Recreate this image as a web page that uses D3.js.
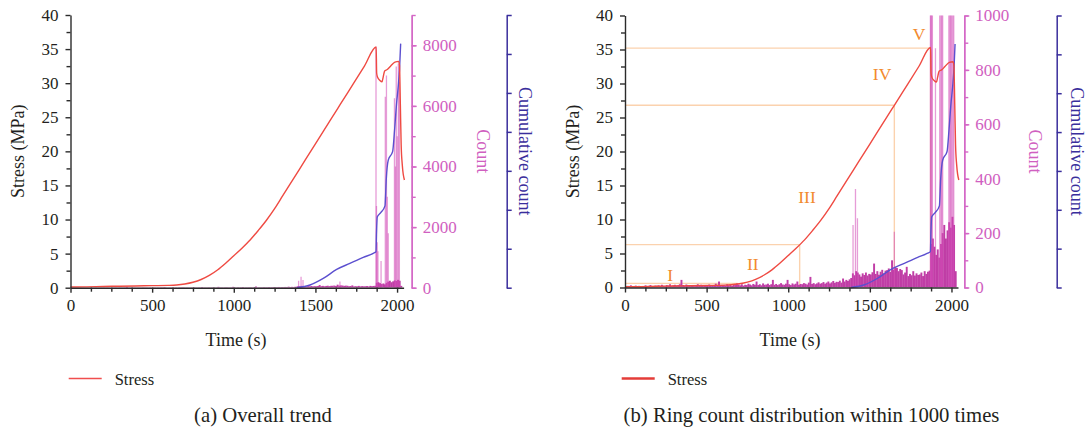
<!DOCTYPE html>
<html>
<head>
<meta charset="utf-8">
<script src="https://cdn.jsdelivr.net/npm/d3@7/dist/d3.min.js"></script>
<style>
  html, body { margin: 0; padding: 0; background: #ffffff; }
  svg { display: block; }
  svg text { font-family: "Liberation Serif", "DejaVu Serif", serif !important; }
</style>
</head>
<body>
<svg id="chart" width="1086" height="429"></svg>
<script>
// ---------------- DATA ----------------
const stressTime  = [0, 100, 200, 300, 400, 500, 600, 650, 700, 750, 800, 850, 900, 950, 1000, 1050, 1100, 1150, 1200, 1250, 1300, 1400, 1500, 1600, 1650, 1700, 1800, 1872, 1875, 1880, 1895, 1908, 1915, 1924, 1940, 1960, 1987, 2010, 2015, 2020, 2025, 2032, 2045];
const stressValue = [0.1, 0.12, 0.18, 0.22, 0.26, 0.3, 0.34, 0.4, 0.55, 0.8, 1.2, 1.8, 2.6, 3.6, 4.7, 5.8, 7.0, 8.4, 9.9, 11.6, 13.5, 17.3, 21.1, 24.9, 26.8, 28.7, 32.5, 35.3, 31.5, 30.9, 30.4, 30.2, 30.9, 31.8, 32.0, 32.5, 33.1, 33.2, 32.6, 27.0, 21.0, 18.0, 15.8];

const cumTime  = [1385, 1467, 1548, 1630, 1711, 1793, 1854, 1871, 1874, 1879, 1900, 1926, 1934, 1946, 1973, 1985, 1997, 2007, 2015, 2022];
const cumValue = [0, 700, 2380, 4690, 6230, 7770, 8820, 9240, 14000, 18200, 19250, 21000, 28000, 32760, 35000, 40600, 47320, 51590, 56000, 62650];

// ring counts per 10 s bin, starting at t = 0
const countBinSeconds = 10;
const counts = [
  4, 6, 3, 8, 5, 3, 7, 4, 6, 5,
  5, 3, 8, 4, 6, 9, 5, 4, 7, 6,
  8, 5, 10, 6, 4, 9, 7, 12, 6, 8,
  10, 7, 9, 12, 28, 9, 6, 11, 8, 7,
  6, 9, 5, 8, 12, 7, 10, 6, 9, 8,
  7, 11, 6, 9, 8, 14, 10, 22, 8, 6,
  9, 7, 12, 8, 10, 6, 13, 9, 15, 11,
  8, 12, 7, 10, 9, 14, 11, 8, 13, 10,
  22, 9, 12, 8, 15, 10, 11, 14, 9, 12,
  28, 10, 13, 9, 12, 16, 11, 10, 14, 28,
  12, 9, 15, 11, 14, 22, 10, 13, 12, 16,
  14, 11, 18, 39, 13, 16, 12, 15, 19, 14,
  16, 20, 14, 18, 22, 15, 19, 24, 17, 21,
  20, 25, 18, 33, 22, 28, 24, 30, 35, 52,
  45, 60, 55, 48, 40, 52, 46, 55, 44, 50,
  48, 56, 88, 50, 60, 47, 58, 65, 52, 62,
  64, 70, 58, 100, 66, 75, 72, 60, 68, 64,
  48, 55, 76, 42, 50, 45, 60, 44, 52, 46,
  48, 55, 42, 60, 50, 58, 62, 160, 180, 150,
  120, 140, 110, 160, 200, 230, 180, 210, 240, 220,
  260, 230, 60, 0
];

// individual large ring-count events
const spikeTime  = [1397, 1412, 1424, 1650, 1871, 1874, 1878, 1883, 1902, 1928, 1935, 1940, 1946, 1984, 1990, 1995, 2001, 2008, 2014];
const spikeCount = [230, 362, 255, 205, 7950, 2700, 1500, 1200, 880, 6300, 7000, 3000, 1800, 6250, 4000, 7300, 5000, 7400, 6800];

// stage boundaries (panel b)
const stageBoundaryTime   = [690, 1070, 1650, 1872];
const stageBoundaryStress = [0.6, 6.3, 26.8, 35.2];
const stageLabels      = ["I", "II", "III", "IV", "V"];
const stageLabelTime   = [276, 783, 1115, 1575, 1802];
const stageLabelStress = [1.8, 3.5, 13.3, 31.4, 37.3];

const timeTicks   = [0, 500, 1000, 1500, 2000];
const stressTicks = [0, 5, 10, 15, 20, 25, 30, 35, 40];
const countTicksA = [0, 2000, 4000, 6000, 8000];
const countTicksB = [0, 200, 400, 600, 800, 1000];

// ---------------- DRAW ----------------
const FONT = '"Liberation Serif", "DejaVu Serif", serif';
const svg = d3.select("#chart");
const C = {
  axis: "#2b2b2b", text: "#231f20", stress: "#ef4a42", cum: "#5b4fcf",
  cumAxis: "#3a2e9c", count: "#c03ea6", countAxis: "#d468c6", countText: "#d060c0",
  guide: "#fbd2ae", stage: "#f28a2e"
};
const TICK_FS = 17, TITLE_FS = 18, CAPTION_FS = 20.7, LEGEND_FS = 16.5;

function panel(P) {
  const g = svg.append("g");
  const x = d3.scaleLinear().domain([0, 2040]).range([P.left, P.right]);
  const y = d3.scaleLinear().domain([0, 40]).range([P.bottom, P.top]);
  const yc = d3.scaleLinear().domain([0, P.countMax]).range([P.bottom, P.top]);
  const ycum = d3.scaleLinear().domain([0, 70000]).range([P.bottom, P.top]);

  const clipId = "clip" + P.id;
  g.append("clipPath").attr("id", clipId).append("rect")
    .attr("x", P.left).attr("y", P.top).attr("width", P.countX - P.left).attr("height", P.bottom - P.top);

  if (P.guides) {
    const gg = g.append("g").attr("stroke", C.guide).attr("stroke-width", 1.4).attr("fill", "none");
    stageBoundaryTime.forEach((t, i) => {
      gg.append("line").attr("x1", x(0)).attr("x2", x(t)).attr("y1", y(stageBoundaryStress[i])).attr("y2", y(stageBoundaryStress[i]));
      if (i > 0) gg.append("line").attr("x1", x(t)).attr("x2", x(t)).attr("y1", y(stageBoundaryStress[i])).attr("y2", y(0));
    });
  }

  const cg = g.append("g").attr("clip-path", `url(#${clipId})`);
  const bw = x(countBinSeconds) - x(0);
  cg.selectAll("rect.bar").data(counts).join("rect")
    .attr("x", (d, i) => x(i * countBinSeconds))
    .attr("width", bw + 0.3)
    .attr("y", d => yc(d))
    .attr("height", d => yc(0) - yc(d))
    .attr("fill", C.count);
  cg.selectAll("line.spike").data(spikeTime).join("line")
    .attr("x1", d => x(d)).attr("x2", d => x(d))
    .attr("y1", yc(0)).attr("y2", (d, i) => yc(spikeCount[i]))
    .attr("stroke", "#d24ab6").attr("stroke-opacity", 0.55).attr("stroke-width", 1.3);

  g.append("path").datum(cumTime)
    .attr("d", d3.line().curve(d3.curveMonotoneX).x(d => x(d)).y((d, i) => ycum(cumValue[i])))
    .attr("fill", "none").attr("stroke", C.cum).attr("stroke-width", 1.4);

  g.append("path").datum(stressTime)
    .attr("d", d3.line().curve(d3.curveMonotoneX).x(d => x(d)).y((d, i) => y(stressValue[i])))
    .attr("fill", "none").attr("stroke", C.stress).attr("stroke-width", 1.4);

  if (P.guides) {
    g.selectAll("text.stage").data(stageLabels).join("text")
      .attr("x", (d, i) => x(stageLabelTime[i])).attr("y", (d, i) => y(stageLabelStress[i]))
      .attr("text-anchor", "middle").attr("dominant-baseline", "central")
      .attr("fill", C.stage).attr("font-size", 17.5).text(d => d);
  }

  const xa = g.append("g").attr("transform", `translate(0,${P.bottom})`)
    .call(d3.axisBottom(x).tickValues(timeTicks).tickSize(5).tickSizeOuter(0).tickPadding(6).tickFormat(d3.format("d")));
  g.append("g").attr("transform", `translate(0,${P.bottom})`)
    .call(d3.axisBottom(x).tickValues(d3.range(125, 2040, 125).filter(v => v % 500)).tickSize(4).tickSizeOuter(0).tickFormat(""))
    .call(a => a.select(".domain").remove())
    .selectAll("line").attr("stroke", C.axis).attr("stroke-width", 1.4);
  const ya = g.append("g").attr("transform", `translate(${P.left},0)`)
    .call(d3.axisLeft(y).tickValues(stressTicks).tickSize(5).tickSizeOuter(0).tickPadding(7));
  g.append("g").attr("transform", `translate(${P.left},0)`)
    .call(d3.axisLeft(y).tickValues(d3.range(2.5, 40, 5)).tickSize(4).tickSizeOuter(0).tickFormat(""))
    .call(a => a.select(".domain").remove())
    .selectAll("line").attr("stroke", C.axis).attr("stroke-width", 1.4);
  [xa, ya].forEach(a => {
    a.selectAll("path,line").attr("stroke", C.axis).attr("stroke-width", 1.4);
    a.selectAll("text").attr("fill", C.text).attr("font-size", TICK_FS);
  });

  const ca = g.append("g").attr("transform", `translate(${P.countX},0)`)
    .call(d3.axisRight(yc).tickValues(P.countTicks).tickSize(5).tickSizeOuter(0).tickPadding(6).tickFormat(d3.format("d")));
  const caMinor = g.append("g").attr("transform", `translate(${P.countX},0)`)
    .call(d3.axisRight(yc).tickValues(d3.range(0, P.countMax + 1, P.countMinor)).tickSize(4).tickSizeOuter(0).tickFormat(""));
  [ca, caMinor].forEach(a => {
    a.selectAll("path,line").attr("stroke", C.countAxis).attr("stroke-width", 1.4);
    a.selectAll("text").attr("fill", C.countText).attr("font-size", TICK_FS);
  });

  const cua = g.append("g").attr("transform", `translate(${P.cumX},0)`)
    .call(d3.axisRight(ycum).tickValues(d3.range(0, 70001, 10000)).tickSize(5).tickSizeOuter(0).tickFormat(""));
  cua.selectAll("path,line").attr("stroke", C.cumAxis).attr("stroke-width", 1.5);

  const midY = (P.top + P.bottom) / 2;
  g.append("text").attr("transform", `translate(${P.stressTitleX},${midY}) rotate(-90)`)
    .attr("text-anchor", "middle").attr("dominant-baseline", "central")
    .attr("fill", C.text).attr("font-size", TITLE_FS).text("Stress (MPa)");
  g.append("text").attr("transform", `translate(${P.countTitleX},${midY}) rotate(90)`)
    .attr("text-anchor", "middle").attr("dominant-baseline", "central")
    .attr("fill", C.countText).attr("font-size", TITLE_FS).text("Count");
  g.append("text").attr("transform", `translate(${P.cumTitleX},${midY}) rotate(90)`)
    .attr("text-anchor", "middle").attr("dominant-baseline", "central")
    .attr("fill", C.cumAxis).attr("font-size", TITLE_FS).text("Cumulative count");
  g.append("text").attr("x", P.timeTitleX).attr("y", 346)
    .attr("text-anchor", "middle").attr("fill", C.text).attr("font-size", TITLE_FS).text("Time (s)");

  g.append("line").attr("x1", P.legendX).attr("x2", P.legendX + 33).attr("y1", 378.5).attr("y2", 378.5)
    .attr("stroke", P.legendColor).attr("stroke-width", P.legendWidth);
  g.append("text").attr("x", P.legendX + 46).attr("y", 384.5)
    .attr("fill", C.text).attr("font-size", LEGEND_FS).text("Stress");

  g.append("text").attr("x", P.captionX).attr("y", 421.5)
    .attr("text-anchor", "middle").attr("fill", C.text).attr("font-size", CAPTION_FS).text(P.caption);

  g.selectAll("text").style("font-family", FONT);
}

panel({
  id: "a", left: 70.5, right: 403.6, top: 15, bottom: 287.7,
  countX: 411.7, cumX: 506.7, countMax: 9000, countMinor: 1000, countTicks: countTicksA,
  guides: false, stressTitleX: 18, countTitleX: 483, cumTitleX: 525, timeTitleX: 236,
  legendX: 68.7, legendColor: "#f04e4e", legendWidth: 1.5,
  captionX: 263, caption: "(a) Overall trend"
});
panel({
  id: "b", left: 625, right: 958, top: 15.5, bottom: 287.5,
  countX: 964.3, cumX: 1056.7, countMax: 1000, countMinor: 100, countTicks: countTicksB,
  guides: true, stressTitleX: 573, countTitleX: 1035, cumTitleX: 1077, timeTitleX: 790,
  legendX: 621.7, legendColor: "#e43c38", legendWidth: 2.6,
  captionX: 811.5, caption: "(b) Ring count distribution within 1000 times"
});
</script>
</body>
</html>
